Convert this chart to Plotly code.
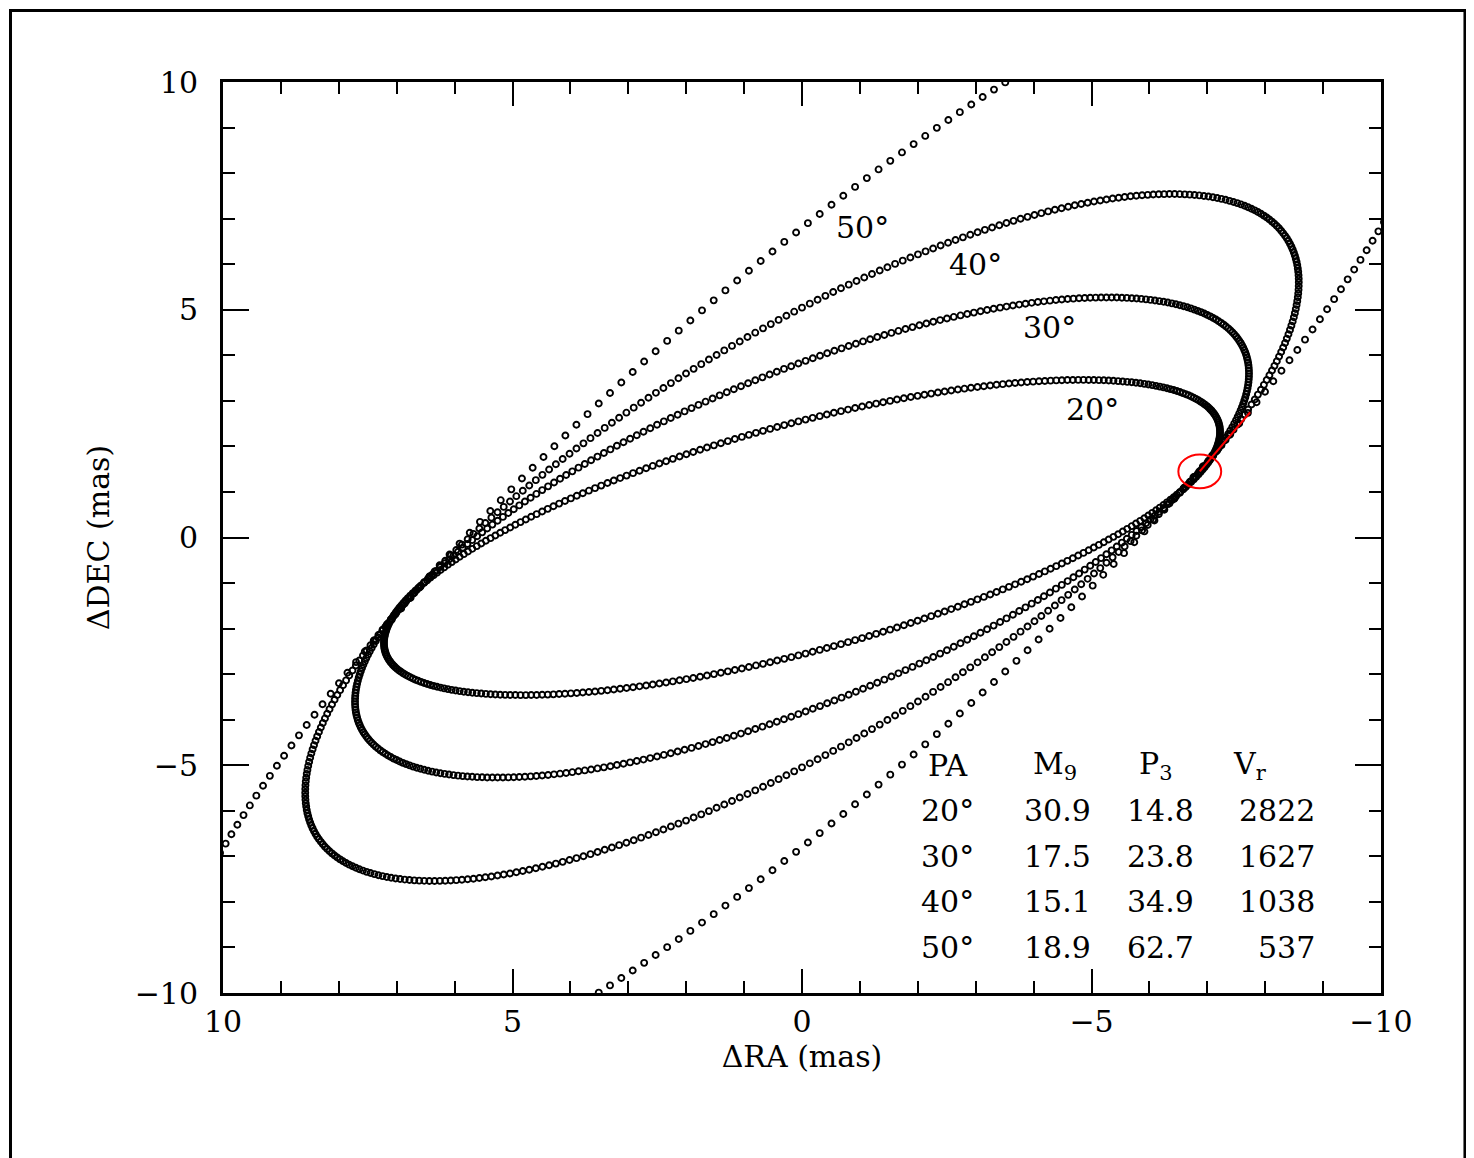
import numpy as np
import plotly.graph_objects as go

# ---- data ----
pa_deg = [20, 30, 40, 50]
# orbit geometry (mas): max |dRA|, max |dDEC|, cosine of phase lag between RA and DEC motion
ra_extent = [7.22, 7.72, 8.58, 11.36]
dec_extent = [3.46, 5.27, 7.54, 13.28]
phase_cos = [-0.67, -0.683, -0.743, -0.859]
n_points = [370, 390, 400, 350]

# curve label positions (mas)
label_ra = [-5.02, -4.28, -2.99, -1.04]
label_dec = [2.8, 4.6, 6.0, 6.8]

# table
table_pa = ["20°", "30°", "40°", "50°"]
m9 = ["30.9", "17.5", "15.1", "18.9"]
p3 = ["14.8", "23.8", "34.9", "62.7"]
vr = ["2822", "1627", "1038", "537"]
table_dec = [-6, -7, -8, -9]

# current position and proper motion
star_ra, star_dec = -6.87, 1.45
star_radius = 0.37
pm_ra_end, pm_dec_end = -7.74, 2.75

FONT = "DejaVu Serif"

fig = go.Figure()

for X, Y, c, n in zip(ra_extent, dec_extent, phase_cos, n_points):
    t = np.linspace(0, 2 * np.pi, n, endpoint=False)
    phi = np.arccos(c)
    x = X * np.cos(t)
    y = Y * np.cos(t - phi)
    fig.add_trace(go.Scatter(
        x=x, y=y, mode="markers",
        marker=dict(symbol="circle-open", size=6, color="black",
                    line=dict(width=1.9, color="black")),
        showlegend=False, hoverinfo="skip"))

# proper motion line
fig.add_trace(go.Scatter(x=[star_ra, pm_ra_end], y=[star_dec, pm_dec_end],
                         mode="lines", line=dict(color="red", width=2),
                         showlegend=False, hoverinfo="skip"))

# invisible trace for mirror axes
fig.add_trace(go.Scatter(x=[0], y=[0], xaxis="x2", yaxis="y2", mode="markers",
                         marker=dict(opacity=0), showlegend=False, hoverinfo="skip"))

fig.add_shape(type="circle", xref="x", yref="y",
              x0=star_ra - star_radius, x1=star_ra + star_radius,
              y0=star_dec - star_radius, y1=star_dec + star_radius,
              line=dict(color="red", width=2))

# outer frame
fig.add_shape(type="rect", xref="paper", yref="paper",
              x0=-0.1835, x1=1.0725, y0=-0.3, y1=1.0785,
              line=dict(color="black", width=3))

# curve labels
for pa, lx, ly in zip(pa_deg, label_ra, label_dec):
    fig.add_annotation(x=lx, y=ly, xref="x", yref="y", text=f"{pa}°",
                       showarrow=False, font=dict(family=FONT, size=30, color="black"))

# table header
hdr_x = [-2.52, -4.37, -6.11, -7.74]
hdr_txt = ["PA", "M<sub>9</sub>", "P<sub>3</sub>", "V<sub>r</sub>"]
for hx, ht in zip(hdr_x, hdr_txt):
    fig.add_annotation(x=hx, y=-5.0, xref="x", yref="y", text=ht, showarrow=False,
                       font=dict(family=FONT, size=30, color="black"))
for i, yy in enumerate(table_dec):
    fig.add_annotation(x=-2.52, y=yy, xref="x", yref="y", text=table_pa[i],
                       showarrow=False, font=dict(family=FONT, size=30, color="black"))
    fig.add_annotation(x=-4.41, y=yy, xref="x", yref="y", text=m9[i],
                       showarrow=False, font=dict(family=FONT, size=30, color="black"))
    fig.add_annotation(x=-6.2, y=yy, xref="x", yref="y", text=p3[i],
                       showarrow=False, font=dict(family=FONT, size=30, color="black"))
    fig.add_annotation(x=-8.89, y=yy, xref="x", yref="y", text=vr[i], xanchor="right",
                       showarrow=False, font=dict(family=FONT, size=30, color="black"))

axis_common = dict(
    showgrid=False, zeroline=False, showline=True, linecolor="black", linewidth=3,
    ticks="inside", tickcolor="black", tickwidth=2,
    tick0=0, dtick=5,
    minor=dict(ticks="inside", dtick=1, tick0=0, ticklen=12, tickwidth=2,
               tickcolor="black", showgrid=False),
    tickfont=dict(family=FONT, size=30, color="black"),
)
mirror_common = {k: v for k, v in axis_common.items() if k != "tickfont"}

fig.update_layout(
    width=1466, height=1150,
    margin=dict(l=215, r=93, t=74, b=165),
    paper_bgcolor="white", plot_bgcolor="white",
    xaxis=dict(range=[10, -10], ticklen=24, ticklabelstandoff=0,
               title=dict(text="ΔRA (mas)", font=dict(family=FONT, size=30, color="black"),
                          standoff=6),
               **axis_common),
    yaxis=dict(range=[-10, 10], ticklen=26, ticklabelstandoff=16,
               title=dict(text="ΔDEC (mas)", font=dict(family=FONT, size=30, color="black"),
                          standoff=17),
               **axis_common),
    xaxis2=dict(range=[10, -10], overlaying="x", side="top", anchor="y",
                showticklabels=False, ticklen=24, **mirror_common),
    yaxis2=dict(range=[-10, 10], overlaying="y", side="right", anchor="x",
                showticklabels=False, ticklen=26, **mirror_common),
)

fig.write_html("out.html")
